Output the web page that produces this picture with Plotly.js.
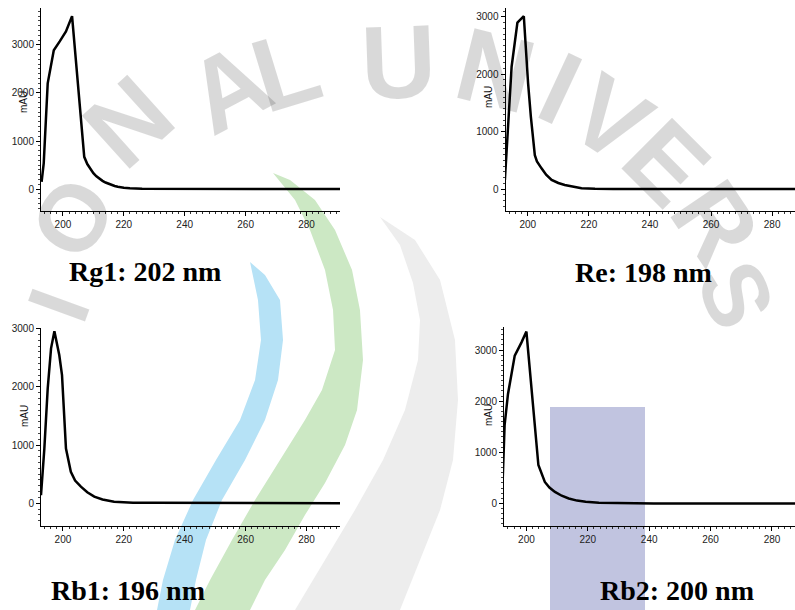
<!DOCTYPE html>
<html>
<head>
<meta charset="utf-8">
<script src="https://cdn.plot.ly/plotly-3.0.1.min.js"></script>
<style>
  html, body { margin: 0; padding: 0; background: #fff; }
  #graph { width: 795px; height: 610px; }
</style>
</head>
<body>
<div id="graph"></div>
<script>
// UV spectra (wavelength nm / absorbance mAU)
const rg1X = [193, 193.7, 195, 197, 199, 201, 203, 207, 208, 209, 210, 211, 212, 213, 214, 215, 216, 217, 218, 219, 220, 222, 224, 226, 291];
const rg1Y = [150, 540, 2200, 2890, 3080, 3280, 3600, 670, 520, 410, 330, 265, 210, 170, 135, 105, 82, 62, 46, 34, 25, 14, 8, 4, 0];

const reX = [192.5, 193.5, 194.7, 196.6, 198.7, 200.1, 201, 202.3, 203, 204.5, 206, 207.8, 210, 212.1, 215, 217.6, 222, 228, 291];
const reY = [160, 970, 2130, 2900, 3010, 1840, 1260, 590, 480, 360, 250, 160, 105, 70, 35, 15, 6, 2, 0];

const rb1X = [192.8, 193.9, 195, 196.1, 197.2, 198.8, 199.7, 201, 202.6, 204, 205.9, 208, 210.3, 213, 216.8, 220, 223, 230, 239.7, 240.2, 291];
const rb1Y = [140, 940, 1970, 2660, 2955, 2545, 2200, 940, 540, 390, 285, 190, 115, 65, 27, 15, 10, 9, 8, 0, 0];

const rb2X = [192.1, 192.9, 194, 196.2, 198.4, 200, 203.9, 206, 207.5, 209.3, 211.5, 213.8, 216.5, 219.3, 223.6, 230, 241, 241.5, 291];
const rb2Y = [160, 1530, 2140, 2890, 3150, 3360, 750, 420, 310, 225, 150, 97, 55, 32, 12, 10, 10, 0, 0];

const panelTitles = ['Rg1: 202 nm', 'Re: 198 nm', 'Rb1: 196 nm', 'Rb2: 200 nm'];
const yAxisLabel = 'mAU';
const xTickVals = [200, 220, 240, 260, 280];
const xTickText = ['200', '220', '240', '260', '280'];
const yTickVals = [0, 1000, 2000, 3000];
const yTickText = ['0', '1000', '2000', '3000'];

// watermark (background logo) letters
const markLetters = ['I', 'O', 'N', 'A', 'L', 'U', 'N', 'I', 'V', 'E', 'R', 'S'];

const W = 795, H = 610;
function px(v){ return v / W; }
function py(v){ return 1 - v / H; }

// panel boxes in pixels: [left, right, top, bottom], plus axis ranges
const panels = [
  {box: [41, 340, 8, 211],     xr: [192.8, 291],   yr: [-458, 3770], title: [145, 271], lab: [23, 102]},
  {box: [505.5, 795, 8, 211],  xr: [192.7, 287.5], yr: [-383, 3153], title: [643, 272], lab: [488, 97]},
  {box: [41, 340, 328, 526],   xr: [192.8, 291],   yr: [-390, 3010], title: [128, 590], lab: [24, 416]},
  {box: [504, 795, 327, 526],  xr: [192.7, 287.5], yr: [-442, 3450], title: [677, 590], lab: [488, 415]}
];

const series = [[rg1X, rg1Y], [reX, reY], [rb1X, rb1Y], [rb2X, rb2Y]];

let data = [];
let layout = {
  width: W, height: H,
  margin: {l: 0, r: 0, t: 0, b: 0},
  paper_bgcolor: '#fff',
  plot_bgcolor: 'rgba(0,0,0,0)',
  showlegend: false,
  font: {family: 'Liberation Sans, Arial, sans-serif', size: 10, color: '#222'},
  annotations: [],
  shapes: []
};

// background logo pieces
function bandPath(pts){
  let s = '';
  for(let k = 0; k < pts.length; k++){
    s += (k === 0 ? 'M ' : ' L ') + px(pts[k][0]).toFixed(4) + ',' + py(pts[k][1]).toFixed(4);
  }
  return s + ' Z';
}

const blueBand = [[250,262],[258,300],[261,340],[255,380],[240,420],[216,460],[193,500],[175,540],[163,580],[157,610],
                  [190,610],[196,580],[206,540],[222,500],[245,460],[265,420],[278,380],[283,340],[280,300],[265,275]];
const greenBand = [[273,173],[295,200],[310,230],[325,270],[333,310],[335,350],[322,390],[305,420],[280,460],[255,500],[232,540],[210,580],[195,610],
                   [250,610],[265,580],[285,550],[305,515],[325,483],[345,445],[357,410],[363,360],[360,310],[352,270],[335,230],[315,200],[290,180]];
const grayBand = [[380,217],[400,245],[413,283],[420,320],[418,360],[405,410],[383,460],[355,510],[325,560],[295,610],
                  [400,610],[420,560],[440,510],[453,460],[458,400],[455,340],[440,280],[415,240]];

layout.shapes.push({type: 'path', xref: 'paper', yref: 'paper', layer: 'below', path: bandPath(grayBand), fillcolor: 'rgb(237,237,237)', line: {width: 0}});
layout.shapes.push({type: 'path', xref: 'paper', yref: 'paper', layer: 'below', path: bandPath(greenBand), fillcolor: 'rgb(204,232,196)', line: {width: 0}});
layout.shapes.push({type: 'path', xref: 'paper', yref: 'paper', layer: 'below', path: bandPath(blueBand), fillcolor: 'rgb(182,226,246)', line: {width: 0}});
layout.shapes.push({type: 'rect', xref: 'paper', yref: 'paper', layer: 'below',
  x0: px(550), x1: px(645), y0: py(610), y1: py(407), fillcolor: 'rgb(193,196,224)', line: {width: 0}});

// [x px, y px, angle, size]
const markPos = [[58,305,-70,88],[72,218,-58,94],[128,122,-42,104],[228,88,-28,104],[286,70,-17,104],[398,62,-2,104],
                 [495,70,14,104],[560,88,25,104],[610,118,33,104],[666,162,45,104],[716,222,56,100],[736,294,68,92]];
for(let k = 0; k < markLetters.length; k++){
  layout.annotations.push({
    xref: 'paper', yref: 'paper', x: px(markPos[k][0]), y: py(markPos[k][1]),
    text: markLetters[k], textangle: markPos[k][2], showarrow: false,
    xanchor: 'center', yanchor: 'middle',
    font: {family: 'Liberation Sans, Arial, sans-serif', size: markPos[k][3], color: 'rgba(0,0,0,0.15)', weight: 700}
  });
}

for(let i = 0; i < panels.length; i++){
  let p = panels[i];
  let n = i === 0 ? '' : (i + 1);
  data.push({
    x: series[i][0], y: series[i][1],
    type: 'scatter', mode: 'lines',
    line: {color: '#000', width: 2.5},
    xaxis: 'x' + n, yaxis: 'y' + n,
    hoverinfo: 'skip'
  });

  layout['xaxis' + n] = {
    domain: [px(p.box[0]), px(p.box[1])],
    anchor: 'y' + n,
    range: p.xr,
    showgrid: false, zeroline: false,
    showline: true, linecolor: '#000', linewidth: 1,
    ticks: 'outside', ticklen: 4, tickwidth: 1, tickcolor: '#000',
    tickvals: xTickVals, ticktext: xTickText,
    minor: {dtick: 2, ticklen: 2, tickcolor: '#333', ticks: 'outside'},
    tickfont: {size: 10, color: '#222'}
  };
  layout['yaxis' + n] = {
    domain: [py(p.box[3]), py(p.box[2])],
    anchor: 'x' + n,
    range: p.yr,
    showgrid: false, zeroline: false,
    showline: true, linecolor: '#000', linewidth: 1,
    ticks: 'outside', ticklen: 4, tickwidth: 1, tickcolor: '#000',
    tickvals: yTickVals, ticktext: yTickText,
    minor: {dtick: 100, ticklen: 2, tickcolor: '#444', ticks: 'outside'},
    tickfont: {size: 10, color: '#222'}
  };

  layout.annotations.push({
    xref: 'paper', yref: 'paper', x: px(p.lab[0]), y: py(p.lab[1]),
    text: yAxisLabel, textangle: -90, showarrow: false,
    xanchor: 'center', yanchor: 'middle',
    font: {size: 10, color: '#111'}
  });
  layout.annotations.push({
    xref: 'paper', yref: 'paper', x: px(p.title[0]), y: py(p.title[1]),
    text: panelTitles[i], showarrow: false,
    xanchor: 'center', yanchor: 'middle',
    font: {family: 'Liberation Serif, Times New Roman, serif', size: 28, color: '#000', weight: 700}
  });
}

Plotly.newPlot('graph', data, layout, {staticPlot: true, displayModeBar: false});
</script>
</body>
</html>
